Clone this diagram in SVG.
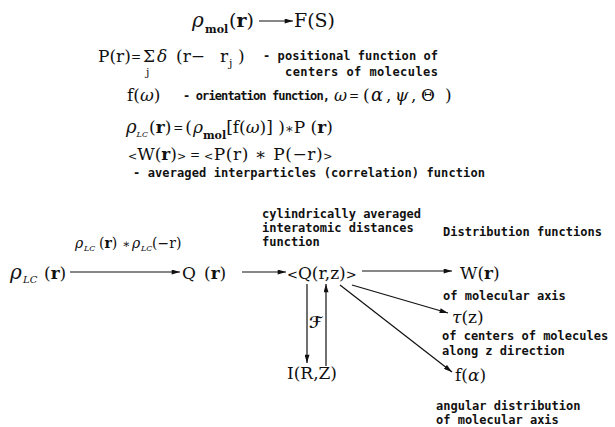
<svg xmlns="http://www.w3.org/2000/svg" width="615" height="427" viewBox="0 0 615 427">
<defs>
<style>
.m{font-family:"DejaVu Serif",serif;font-size:17px;fill:#111}
.g{font-family:"DejaVu Serif",serif;font-style:italic;fill:#111}
.b{font-weight:bold}
.s{font-family:"DejaVu Serif",serif;font-weight:bold;font-size:11px;fill:#111}
.t{font-family:"DejaVu Sans Mono",monospace;font-weight:bold;font-size:12px;fill:#111}
.c{stroke:#111;stroke-width:1.2;fill:none}
</style>
<marker id="ah" viewBox="0 0 10 6" refX="10" refY="3" markerWidth="9" markerHeight="5" markerUnits="userSpaceOnUse" orient="auto"><path d="M0,0 L10,3 L0,6 z" fill="#111"/></marker>
</defs>
<rect width="615" height="427" fill="#fff"/>

<g id="connectors">
<line class="c" x1="259" y1="21" x2="293" y2="21" marker-end="url(#ah)"/>
<line class="c" x1="70" y1="272" x2="180" y2="272" marker-end="url(#ah)"/>
<line class="c" x1="242" y1="272" x2="286" y2="272" marker-end="url(#ah)"/>
<line class="c" x1="362" y1="271" x2="452" y2="271" marker-end="url(#ah)"/>
<line class="c" x1="307" y1="284" x2="307" y2="363" marker-end="url(#ah)"/>
<line class="c" x1="326" y1="366" x2="326" y2="284" marker-end="url(#ah)"/>
<line class="c" x1="352" y1="285" x2="448" y2="313" marker-end="url(#ah)"/>
<line class="c" x1="340" y1="285" x2="452" y2="372" marker-end="url(#ah)"/>
</g>

<g id="rho-mol">
<text class="g" x="192" y="27" font-size="20">ρ</text>
<text class="s" x="205" y="33">mol</text>
<text class="m" x="229" y="27" style="font-size:19px">(<tspan class="b">r</tspan>)</text>
</g>
<g id="FS"><text class="m" x="294" y="27" style="font-size:19px">F(S)</text></g>

<g id="eq-P">
<text class="m" y="62"><tspan x="98">P(r)</tspan><tspan x="131" y="61" style="font-size:12px">=</tspan><tspan x="143" y="62">Σ</tspan><tspan x="146" y="76" style="font-size:11px">j</tspan><tspan x="157" y="62" class="g">δ</tspan><tspan x="176">(r−</tspan><tspan x="220">r</tspan><tspan x="229" y="67" style="font-size:11px">j</tspan><tspan x="238" y="62">)</tspan></text>
<text class="t" x="263" y="60" textLength="175">- positional function of</text>
<text class="t" x="285" y="76" textLength="153">centers of molecules</text>
</g>

<g id="eq-f">
<text class="m" x="127" y="101">f(<tspan class="g">ω</tspan>)</text>
<text class="t" x="183" y="100" textLength="147">- orientation function,</text>
<text class="g" x="334" y="101" font-size="16">ω</text>
<text class="m" x="349" y="100" style="font-size:12px">=</text>
<text class="m" x="363" y="101">(</text>
<text class="g" x="371" y="101" font-size="18">α</text>
<text class="m" x="386" y="101">,</text>
<text class="g" x="395" y="101" font-size="17">ψ</text>
<text class="m" x="411" y="101">,</text>
<text class="m" x="421" y="101">Θ</text>
<text class="m" x="445" y="101">)</text>
</g>

<g id="eq-rholc">
<text class="m" x="126" y="133"><tspan class="g" style="font-size:18px">ρ</tspan><tspan class="g" style="font-size:8px" dy="4">LC</tspan><tspan dy="-4" dx="1">(</tspan><tspan class="b">r</tspan>)<tspan style="font-size:12px" dx="2" dy="-1">=</tspan><tspan dy="1" dx="2">(</tspan><tspan class="g" dx="1">ρ</tspan><tspan class="s" dy="6">mol</tspan><tspan dy="-6">[f(</tspan><tspan class="g">ω</tspan>)] )<tspan style="font-size:13px">∗</tspan>P (<tspan class="b">r</tspan>)</text>
</g>

<g id="eq-W">
<text class="m" x="128" y="160"><tspan style="font-size:11px">&lt;</tspan>W(<tspan class="b">r</tspan>)<tspan style="font-size:11px">&gt;</tspan></text>
<text class="m" x="190" y="159" style="font-size:12px">=</text>
<text class="m" x="204" y="160" letter-spacing="0.6"><tspan style="font-size:11px">&lt;</tspan>P(r) ∗ P(−r)<tspan style="font-size:11px">&gt;</tspan></text>
<text class="t" x="133" y="177" textLength="352">- averaged interparticles (correlation) function</text>
</g>

<g id="rholc">
<text class="g" x="10" y="279" font-size="20">ρ</text>
<text class="g" x="23" y="283" font-size="10">LC</text>
<text class="m" x="44" y="279">(<tspan class="b">r</tspan>)</text>
</g>
<g id="conv-label">
<text class="g" x="75" y="248" font-size="14">ρ</text>
<text class="g" x="84" y="251" font-size="8">LC</text>
<text class="m" x="99" y="248" style="font-size:14px">(<tspan class="b">r</tspan>)</text>
<text class="m" x="122" y="248" style="font-size:12px">∗</text>
<text class="g" x="132" y="248" font-size="14">ρ</text>
<text class="g" x="141" y="251" font-size="8">LC</text>
<text class="m" x="152" y="248" style="font-size:14px">(−r)</text>
</g>
<g id="Q"><text class="m" x="182" y="279">Q <tspan x="204">(<tspan class="b">r</tspan>)</tspan></text></g>
<g id="Qrz">
<text class="t" x="262" y="218">cylindrically averaged</text>
<text class="t" x="262" y="232">interatomic distances</text>
<text class="t" x="262" y="246">function</text>
<text class="m" x="287" y="279"><tspan style="font-size:13px">&lt;</tspan>Q(r,z)<tspan style="font-size:13px">&gt;</tspan></text>
</g>
<g id="F-label"><text x="309" y="328" font-family="DejaVu Serif, DejaVu Sans, serif" font-style="italic" font-weight="bold" font-size="16" fill="#111">ℱ</text></g>
<g id="IRZ"><text class="m" x="287" y="379">I(R,Z)</text></g>
<g id="dist-title"><text class="t" x="443" y="236">Distribution functions</text></g>
<g id="W">
<text class="m" x="460" y="279">W(<tspan class="b">r</tspan>)</text>
<text class="t" x="443" y="300">of molecular axis</text>
</g>
<g id="tau">
<text class="g" x="452" y="323" font-size="17">τ<tspan class="m" font-style="normal">(z)</tspan></text>
<text class="t" x="442" y="340">of centers of molecules</text>
<text class="t" x="442" y="355">along z direction</text>
</g>
<g id="falpha">
<text class="m" x="455" y="381">f(<tspan class="g">α</tspan>)</text>
<text class="t" x="436" y="410">angular distribution</text>
<text class="t" x="436" y="424">of molecular axis</text>
</g>
</svg>
